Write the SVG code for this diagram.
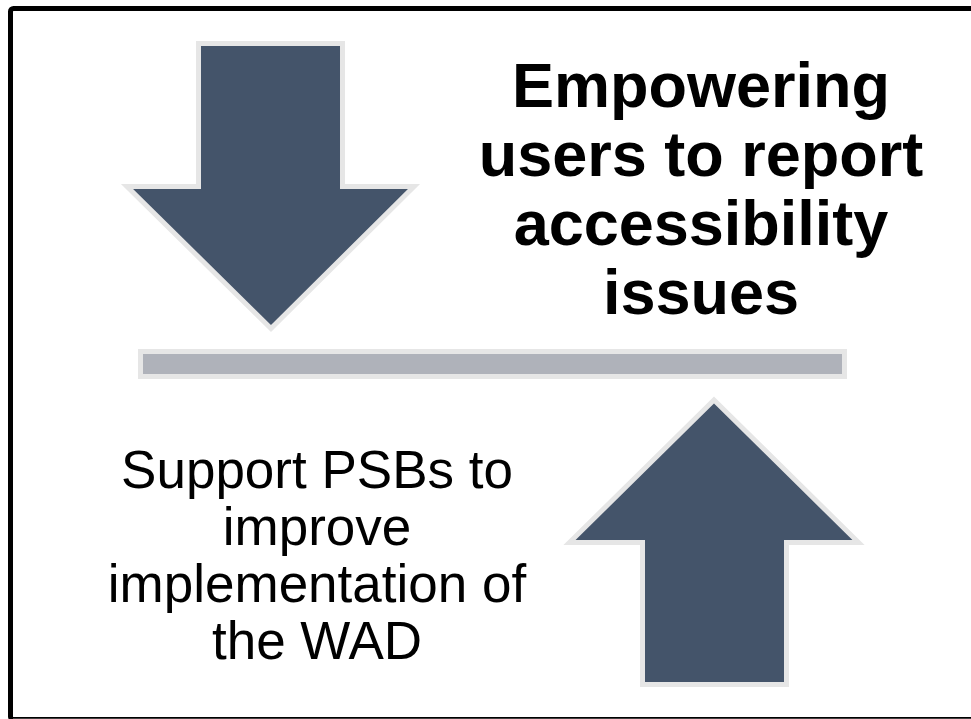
<svg xmlns="http://www.w3.org/2000/svg" width="971" height="719" viewBox="0 0 971 719">
  <style>
    .arrow { fill: #44546a; stroke: #e6e6e6; stroke-width: 5; stroke-linejoin: miter; }
    .bar { fill: #afb2ba; stroke: #e6e6e6; stroke-width: 5; }
    .title { font-family: "Liberation Sans", Arial, sans-serif; font-weight: bold; font-size: 63px; fill: #000; text-anchor: middle; }
    .body { font-family: "Liberation Sans", Arial, sans-serif; font-size: 53px; fill: #000; text-anchor: middle; }
  </style>
  <rect x="0" y="0" width="971" height="719" fill="#ffffff"/>
  <rect id="frame" x="10.5" y="8.5" width="980" height="711" rx="3" fill="none" stroke="#000" stroke-width="5"/>
  <line x1="13" y1="718.5" x2="971" y2="718.5" stroke="#404040" stroke-width="1"/>
  <g id="down-arrow">
    <polygon class="arrow" points="198.5,43.5 342.5,43.5 342.5,186.5 414,186.5 271,328.5 127,186.5 198.5,186.5"/>
  </g>
  <g id="balance-bar">
    <rect class="bar" x="140.5" y="351.5" width="704" height="25"/>
  </g>
  <g id="up-arrow">
    <polygon class="arrow" points="714,400 858.5,542.5 786.5,542.5 786.5,684.5 642.5,684.5 642.5,542.5 569.5,542.5"/>
  </g>
  <g id="title-text">
    <text class="title" x="701" y="107">Empowering</text>
    <text class="title" x="701" y="176">users to report</text>
    <text class="title" x="701" y="245">accessibility</text>
    <text class="title" x="701" y="314">issues</text>
  </g>
  <g id="support-text">
    <text class="body" x="317" y="488">Support PSBs to</text>
    <text class="body" x="317" y="545">improve</text>
    <text class="body" x="317" y="602">implementation of</text>
    <text class="body" x="317" y="659">the WAD</text>
  </g>
</svg>
